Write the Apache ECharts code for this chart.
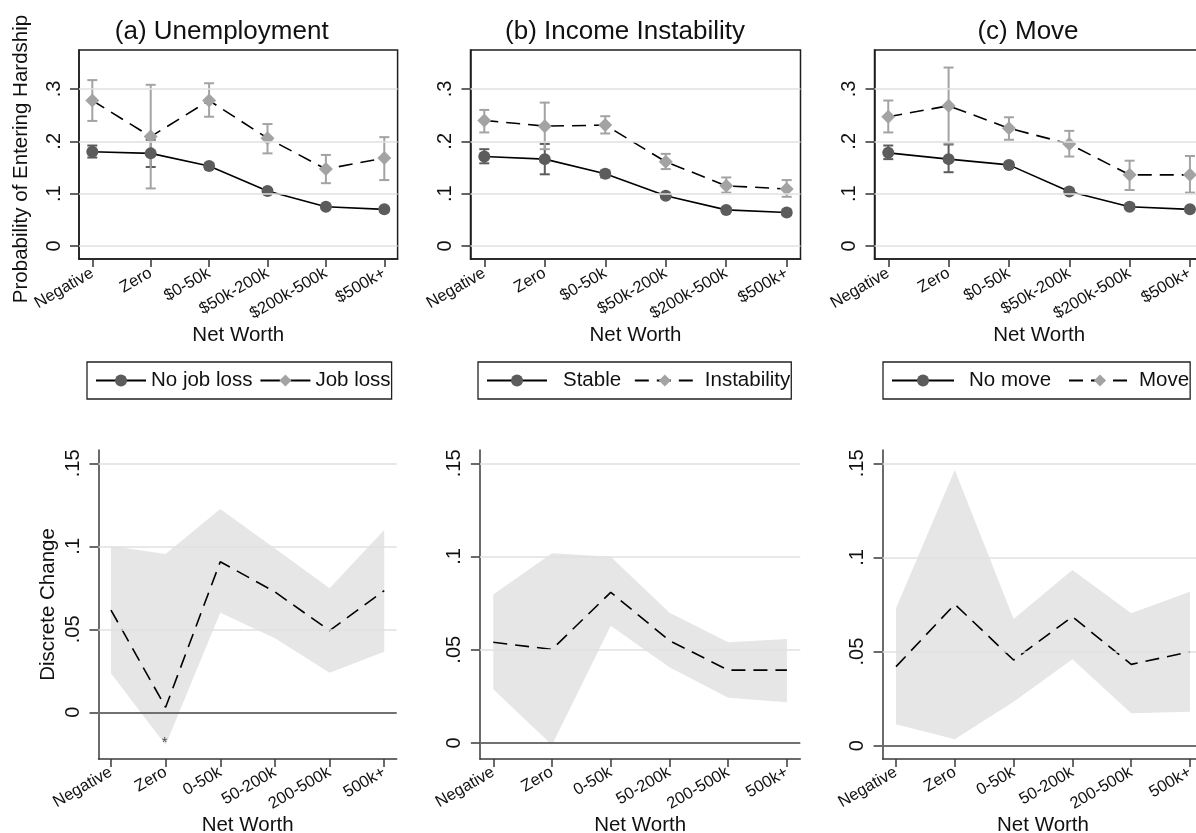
<!DOCTYPE html>
<html>
<head>
<meta charset="utf-8">
<script src="https://cdn.jsdelivr.net/npm/echarts@6/dist/echarts.min.js"></script>
<style>
  html, body { margin: 0; padding: 0; background: #fff; }
  #chart { width: 1196px; height: 833px; }
</style>
</head>
<body>
<div id="chart"></div>
<script>
// ---- categories and tick labels ----
const netWorthTop = ['Negative', 'Zero', '$0-50k', '$50k-200k', '$200k-500k', '$500k+'];
const netWorthBottom = ['Negative', 'Zero', '0-50k', '50-200k', '200-500k', '500k+'];
const panelTitles = ['(a) Unemployment', '(b) Income Instability', '(c) Move'];
const topTicks = [0, 0.1, 0.2, 0.3];
const bottomTicks = [0, 0.05, 0.1, 0.15];

// ---- (a) Unemployment: predicted probability of entering hardship ----
const noJobLoss   = [0.180, 0.177, 0.153, 0.105, 0.075, 0.070];
const noJobLossLo = [0.169, 0.151, 0.147, 0.101, 0.071, 0.066];
const noJobLossHi = [0.192, 0.203, 0.158, 0.109, 0.079, 0.074];
const jobLoss     = [0.278, 0.209, 0.278, 0.206, 0.147, 0.168];
const jobLossLo   = [0.239, 0.110, 0.247, 0.177, 0.120, 0.126];
const jobLossHi   = [0.317, 0.308, 0.311, 0.233, 0.174, 0.208];

// ---- (b) Income instability ----
const stable        = [0.171, 0.166, 0.138, 0.096, 0.069, 0.064];
const stableLo      = [0.158, 0.137, 0.131, 0.092, 0.065, 0.059];
const stableHi      = [0.185, 0.195, 0.144, 0.100, 0.073, 0.068];
const instability   = [0.240, 0.229, 0.231, 0.161, 0.115, 0.109];
const instabilityLo = [0.217, 0.185, 0.215, 0.147, 0.102, 0.094];
const instabilityHi = [0.260, 0.274, 0.248, 0.176, 0.131, 0.126];

// ---- (c) Move ----
const noMove   = [0.178, 0.166, 0.155, 0.104, 0.075, 0.070];
const noMoveLo = [0.166, 0.141, 0.149, 0.100, 0.071, 0.066];
const noMoveHi = [0.192, 0.194, 0.160, 0.108, 0.080, 0.074];
const move     = [0.247, 0.268, 0.225, 0.195, 0.136, 0.136];
const moveLo   = [0.217, 0.196, 0.203, 0.171, 0.107, 0.102];
const moveHi   = [0.278, 0.341, 0.246, 0.220, 0.163, 0.172];

// ---- discrete change (shock minus no shock) with 95% band ----
const unempChange     = [0.0616, 0.0030, 0.0907, 0.0725, 0.0492, 0.0733];
const unempChangeLo   = [0.0235, -0.0197, 0.0600, 0.0446, 0.0239, 0.0365];
const unempChangeHi   = [0.1002, 0.0954, 0.1225, 0.0986, 0.0747, 0.1098];
const instabChange    = [0.0540, 0.0502, 0.0808, 0.0549, 0.0391, 0.0391];
const instabChangeLo  = [0.0288, -0.0011, 0.0629, 0.0406, 0.0243, 0.0218];
const instabChangeHi  = [0.0797, 0.1017, 0.0999, 0.0699, 0.0540, 0.0558];
const moveChange      = [0.0420, 0.0751, 0.0455, 0.0685, 0.0432, 0.0499];
const moveChangeLo    = [0.0114, 0.0034, 0.0234, 0.0459, 0.0172, 0.0181];
const moveChangeHi    = [0.0730, 0.1464, 0.0673, 0.0933, 0.0703, 0.0818];

// reference line level in each lower panel
const refLineLevel = [0, -0.0025, -0.0044];
// significance marker: [category index, y position]
const sigMarks = [[1, -0.0157]];

const panels = [
  { names: ['No job loss', 'Job loss'], base: noJobLoss, baseLo: noJobLossLo, baseHi: noJobLossHi,
    shock: jobLoss, shockLo: jobLossLo, shockHi: jobLossHi,
    change: unempChange, changeLo: unempChangeLo, changeHi: unempChangeHi },
  { names: ['Stable', 'Instability'], base: stable, baseLo: stableLo, baseHi: stableHi,
    shock: instability, shockLo: instabilityLo, shockHi: instabilityHi,
    change: instabChange, changeLo: instabChangeLo, changeHi: instabChangeHi },
  { names: ['No move', 'Move'], base: noMove, baseLo: noMoveLo, baseHi: noMoveHi,
    shock: move, shockLo: moveLo, shockHi: moveHi,
    change: moveChange, changeLo: moveChangeLo, changeHi: moveChangeHi }
];

// ---- layout ----
const FONT = '"Liberation Sans", Arial, Helvetica, sans-serif';
const DARK = '#5c5c5c';
const LIGHT = '#a3a3a3';
const GRIDLINE = '#e1e1e1';
const BAND = '#e6e6e6';
const X_MIN = -0.228, X_MAX = 5.228;
const topBoxes = [{ left: 79, width: 318.6 }, { left: 470.5, width: 330 }, { left: 874.5, width: 329.2 }];
const bottomBoxes = [{ left: 98.5, width: 298.2 }, { left: 479.9, width: 320.4 }, { left: 882.6, width: 320.8 }];
const topRange = { min: -0.02484, max: 0.37452 };
const bottomRanges = [
  { min: -0.02813, max: 0.15801 },
  { min: -0.00858, max: 0.15713 },
  { min: -0.00706, max: 0.15706 }
];
const titleCenters = [216.7, 620, 1023];
// legend key geometry: icon width, gap between entries, text indent per entry, key dash pattern
const legendBoxes = [
  { left: 87, itemWidth: 50, itemGap: 7, pads: [0, 0], dash: [20, 10] },
  { left: 478, itemWidth: 60, itemGap: 12.7, pads: [11, 5], dash: [14, 8] },
  { left: 883, itemWidth: 62, itemGap: 17, pads: [10, 3], dash: [14, 8] }
];

const catIdx = netWorthTop.map((_, i) => i);
const fmtTick = v => (v === 0 ? '0' : String(+v.toFixed(3)).replace(/^0\./, '.'));

function errorBars(axisIdx, lo, hi, color) {
  return {
    type: 'custom', xAxisIndex: axisIdx, yAxisIndex: axisIdx, silent: true,
    data: lo.map((l, i) => [i, l, hi[i]]),
    encode: { x: 0, y: [1, 2] },
    renderItem(params, api) {
      const x = api.value(0);
      const a = api.coord([x, api.value(1)]);
      const b = api.coord([x, api.value(2)]);
      const w = 5;
      const st = () => ({ stroke: color, lineWidth: 2 });
      return {
        type: 'group', children: [
          { type: 'line', shape: { x1: a[0], y1: a[1], x2: b[0], y2: b[1] }, style: st() },
          { type: 'line', shape: { x1: a[0] - w, y1: a[1], x2: a[0] + w, y2: a[1] }, style: st() },
          { type: 'line', shape: { x1: b[0] - w, y1: b[1], x2: b[0] + w, y2: b[1] }, style: st() }
        ]
      };
    }
  };
}

// confidence band drawn as one polygon through the axis scales
function band(axisIdx, lo, hi) {
  return {
    type: 'custom', xAxisIndex: axisIdx, yAxisIndex: axisIdx, silent: true, z: 2,
    data: lo.map((l, i) => [i, l, hi[i]]),
    encode: { x: 0, y: [1, 2] },
    renderItem(params, api) {
      if (params.dataIndex !== 0) return { type: 'group', children: [] };
      const upper = hi.map((v, i) => api.coord([i, v]));
      const lower = lo.map((v, i) => api.coord([i, v])).reverse();
      return { type: 'polygon', shape: { points: upper.concat(lower) }, style: { fill: BAND, stroke: null } };
    }
  };
}

function gridLines(axisIdx, ticks, extra) {
  const data = ticks.map(v => ({ yAxis: v, lineStyle: { color: GRIDLINE, width: 1.5, type: 'solid' } }));
  if (extra !== undefined) data.push({ yAxis: extra, lineStyle: { color: '#4a4a4a', width: 1.5, type: 'solid' } });
  return {
    type: 'line', xAxisIndex: axisIdx, yAxisIndex: axisIdx, silent: true,
    data: [[0, 0]], symbol: 'none', lineStyle: { opacity: 0 }, z: 1,
    markLine: { silent: true, symbol: ['none', 'none'], label: { show: false }, animation: false, data }
  };
}

// grid/axis index k = upper panel, k + 3 = lower panel
const grid = [], xAxis = [], yAxis = [], series = [], title = [], legend = [];

panels.forEach((p, k) => {
  // upper panel: predicted probabilities
  grid[k] = { left: topBoxes[k].left, width: topBoxes[k].width, top: 50, height: 209,
    outerBoundsMode: 'none', containLabel: false,
    show: true, borderColor: '#1e1e1e', borderWidth: 1.5, backgroundColor: 'transparent' };
  xAxis[k] = {
    type: 'value', gridIndex: k, min: X_MIN, max: X_MAX,
    name: 'Net Worth', nameLocation: 'middle', nameGap: 66,
    nameTextStyle: { fontFamily: FONT, fontSize: 20.5, color: '#111' },
    axisLine: { show: true, onZero: false, lineStyle: { color: '#1e1e1e', width: 1.5 } },
    axisTick: { show: true, length: 8, customValues: catIdx, lineStyle: { color: '#333', width: 1.5 } },
    axisLabel: { customValues: catIdx, formatter: v => netWorthTop[Math.round(v)], rotate: 30,
      margin: 13, fontFamily: FONT, fontSize: 16.5, color: '#111' },
    splitLine: { show: false }
  };
  yAxis[k] = {
    type: 'value', gridIndex: k, min: topRange.min, max: topRange.max,
    name: k === 0 ? 'Probability of Entering Hardship' : '', nameLocation: 'middle', nameGap: 47,
    nameTextStyle: { fontFamily: FONT, fontSize: 20.5, color: '#111', padding: [0, 9, 0, 0] },
    axisLine: { show: true, onZero: false, lineStyle: { color: '#1e1e1e', width: 1.5 } },
    axisTick: { show: true, length: 9, customValues: topTicks, lineStyle: { color: '#333', width: 1.5 } },
    axisLabel: { customValues: topTicks, formatter: fmtTick, rotate: 90, margin: 15,
      fontFamily: FONT, fontSize: 20, color: '#111' },
    splitLine: { show: false }
  };
  series.push(gridLines(k, topTicks));
  series.push(errorBars(k, p.baseLo, p.baseHi, DARK));
  series.push(errorBars(k, p.shockLo, p.shockHi, LIGHT));
  series.push({
    type: 'line', name: p.names[0], xAxisIndex: k, yAxisIndex: k,
    data: p.base.map((v, i) => [i, v]), symbol: 'circle', symbolSize: 12, showAllSymbol: true,
    itemStyle: { color: DARK }, lineStyle: { color: '#000', width: 1.6, type: 'solid' }, z: 3
  });
  series.push({
    type: 'line', name: p.names[1], xAxisIndex: k, yAxisIndex: k,
    data: p.shock.map((v, i) => [i, v]), symbol: 'diamond', symbolSize: 14, showAllSymbol: true,
    itemStyle: { color: LIGHT }, lineStyle: { color: '#000', width: 1.6, type: [14, 8] }, z: 3
  });

  title.push({
    text: panelTitles[k], left: titleCenters[k], top: 14, textAlign: 'center',
    textStyle: { fontFamily: FONT, fontSize: 26, fontWeight: 'normal', color: '#111' }
  });

  const lb = legendBoxes[k];
  const legendText = pad => ({ fontFamily: FONT, fontSize: 20.5, color: '#111', padding: [0, 0, 0, pad] });
  legend.push({
    data: [
      { name: p.names[0], textStyle: legendText(lb.pads[0]) },
      { name: p.names[1], textStyle: legendText(lb.pads[1]), lineStyle: { type: lb.dash } }
    ],
    left: lb.left, top: 362, orient: 'horizontal', width: 400,
    itemWidth: lb.itemWidth, itemHeight: 15, itemGap: lb.itemGap,
    padding: [8, 1, 8, 8], borderColor: '#222', borderWidth: 1.3, borderRadius: 0,
    selectedMode: false,
    textStyle: legendText(0)
  });

  // lower panel: discrete change
  const g = k + 3;
  grid[g] = { left: bottomBoxes[k].left, width: bottomBoxes[k].width, top: 450, height: 309,
    outerBoundsMode: 'none', containLabel: false };
  xAxis[g] = {
    type: 'value', gridIndex: g, min: X_MIN, max: X_MAX,
    name: 'Net Worth', nameLocation: 'middle', nameGap: 55,
    nameTextStyle: { fontFamily: FONT, fontSize: 20.5, color: '#111' },
    axisLine: { show: true, onZero: false, lineStyle: { color: '#3a3a3a', width: 1.5 } },
    axisTick: { show: true, length: 8, customValues: catIdx, lineStyle: { color: '#3a3a3a', width: 1.5 } },
    axisLabel: { customValues: catIdx, formatter: v => netWorthBottom[Math.round(v)], rotate: 30,
      margin: 12, fontFamily: FONT, fontSize: 16.5, color: '#111' },
    splitLine: { show: false }
  };
  yAxis[g] = {
    type: 'value', gridIndex: g, min: bottomRanges[k].min, max: bottomRanges[k].max,
    name: k === 0 ? 'Discrete Change' : '', nameLocation: 'middle', nameGap: 40,
    nameTextStyle: { fontFamily: FONT, fontSize: 20.5, color: '#111' },
    axisLine: { show: true, onZero: false, lineStyle: { color: '#3a3a3a', width: 1.5 } },
    axisTick: { show: true, length: 9, customValues: bottomTicks, lineStyle: { color: '#3a3a3a', width: 1.5 } },
    axisLabel: { customValues: bottomTicks, formatter: fmtTick, rotate: 90, margin: 15,
      fontFamily: FONT, fontSize: 20, color: '#111' },
    splitLine: { show: false }
  };
  series.push(gridLines(g, bottomTicks, refLineLevel[k]));
  series.push(band(g, p.changeLo, p.changeHi));
  series.push({
    type: 'line', xAxisIndex: g, yAxisIndex: g, silent: true,
    data: p.change.map((v, i) => [i, v]), symbol: 'none',
    lineStyle: { color: '#000', width: 1.6, type: [14, 8] }, z: 3
  });
});

// significance marker in panel (a)
series.push({
  type: 'scatter', xAxisIndex: 3, yAxisIndex: 3, silent: true,
  data: sigMarks, symbol: 'circle', symbolSize: 2, itemStyle: { color: 'rgba(0,0,0,0)' },
  label: { show: true, position: 'inside', formatter: '*', offset: [-1, 4],
    fontFamily: FONT, fontSize: 15, color: '#222' }, z: 4
});

const chart = echarts.init(document.getElementById('chart'), null, { renderer: 'canvas' });
chart.setOption({
  backgroundColor: '#fff',
  animation: false,
  title, legend, grid, xAxis, yAxis, series
});
</script>
</body>
</html>
